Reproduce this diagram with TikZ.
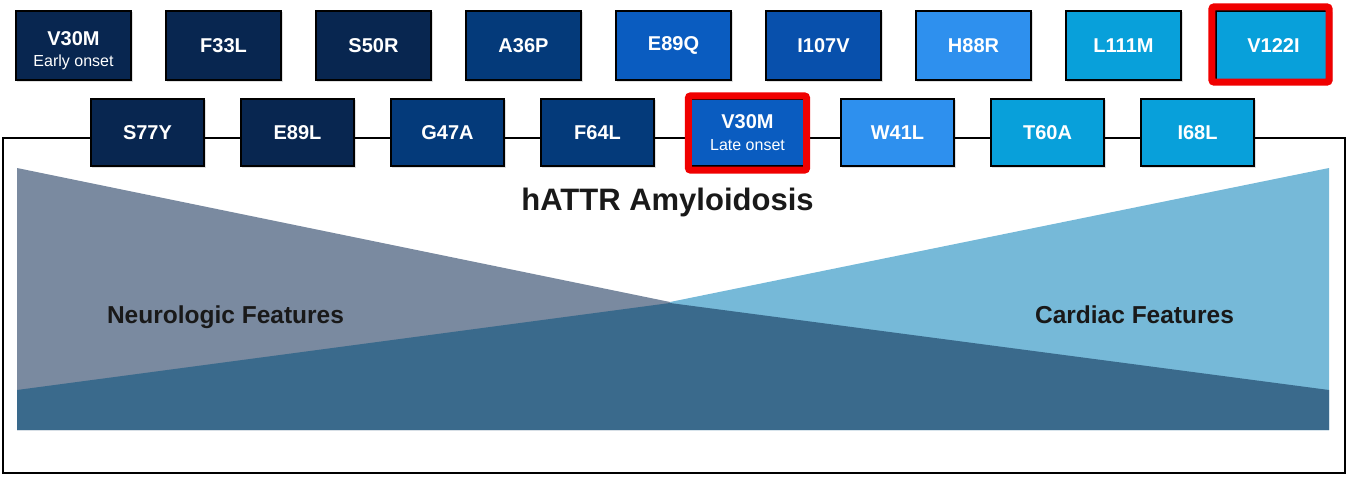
\documentclass[tikz,border=0pt]{standalone}
\usepackage{fontspec}
\setmainfont{Liberation Sans}
\usetikzlibrary{shadows}

\definecolor{navyA}{RGB}{8,38,80}
\definecolor{navyB}{RGB}{4,58,122}
\definecolor{blueC}{RGB}{10,92,192}
\definecolor{blueCc}{RGB}{8,80,172}
\definecolor{blueD}{RGB}{46,144,238}
\definecolor{cyanE}{RGB}{8,160,218}
\definecolor{neurogray}{RGB}{122,138,160}
\definecolor{cardblue}{RGB}{118,185,216}
\definecolor{overlapblue}{RGB}{58,106,140}
\definecolor{hired}{RGB}{240,0,0}

\tikzset{
  mbox/.style={draw=black, line width=1.6pt, text=white, inner sep=0pt,
    font=\fontsize{20}{22}\selectfont\bfseries, align=center,
    drop shadow={opacity=0.25, shadow xshift=1.5pt, shadow yshift=-1.5pt}},
  toprow/.style={mbox, minimum width=115.5pt, minimum height=69.5pt},
  lowrow/.style={mbox, minimum width=113.5pt, minimum height=67.5pt},
  hilite/.style={draw=hired, line width=7pt, rounded corners=2pt},
  frame/.style={draw=black, line width=1.8pt},
  feat/.style={text=black!90, anchor=base, font=\fontsize{24.5}{26}\selectfont\bfseries},
}
\newcommand{\onset}[1]{{\fontsize{16}{18}\selectfont\mdseries #1}}

\begin{document}
\begin{tikzpicture}[x=1pt,y=-1pt]
\useasboundingbox (0,0) rectangle (1348,477);
\def\p{150}
\def\ya{45.5}
\def\yb{132.5}

%Shape: features
\fill[neurogray] (17,168) -- (670,302) -- (670,430) -- (17,430) -- cycle ;
\fill[cardblue] (1329,168) -- (670,302) -- (670,430) -- (1329,430) -- cycle ;
\fill[overlapblue] (17,390) -- (670,303) -- (1329,390) -- (1329,430) -- (17,430) -- cycle ;

%row 1
\node[toprow, fill=navyA] (v30e) at (73.5,\ya) {\rule{0pt}{24pt}V30M\\[-1pt]\onset{Early onset}};
\node[toprow, fill=navyA] (f33l) at (73.5+\p,\ya) {F33L};
\node[toprow, fill=navyA] (s50r) at (73.5+2*\p,\ya) {S50R};
\node[toprow, fill=navyB] (a36p) at (73.5+3*\p,\ya) {A36P};
\node[toprow, fill=blueC] (e89q) at (73.5+4*\p,\ya) {E89Q};
\node[toprow, fill=blueCc] (i107v) at (73.5+5*\p,\ya) {I107V};
\node[toprow, fill=blueD] (h88r) at (73.5+6*\p,\ya) {H88R};
\node[toprow, fill=cyanE] (l111m) at (73.5+7*\p,\ya) {L111M};
\node[toprow, fill=cyanE] (v122i) at (73.5+8*\p,\ya) {V122I};

%row 2
\node[lowrow, fill=navyA] (s77y) at (147.5,\yb) {S77Y};
\node[lowrow, fill=navyA] (e89l) at (147.5+\p,\yb) {E89L};
\node[lowrow, fill=navyB] (g47a) at (147.5+2*\p,\yb) {G47A};
\node[lowrow, fill=navyB] (f64l) at (147.5+3*\p,\yb) {F64L};
\node[lowrow, fill=blueC] (v30l) at (147.5+4*\p,\yb) {V30M\\[0pt]\onset{Late onset}};
\node[lowrow, fill=blueD] (w41l) at (147.5+5*\p,\yb) {W41L};
\node[lowrow, fill=cyanE] (t60a) at (147.5+6*\p,\yb) {T60A};
\node[lowrow, fill=cyanE] (i68l) at (147.5+7*\p,\yb) {I68L};

%Straight Lines
\coordinate (fr) at (0,138);
\draw[frame] (s77y.west |- fr) -- (3,138) -- (3,473) -- (1345,473) -- (1345,138) -- (i68l.east |- fr) ;
\draw[frame] (s77y.east |- fr) -- (e89l.west |- fr) ;
\draw[frame] (e89l.east |- fr) -- (g47a.west |- fr) ;
\draw[frame] (g47a.east |- fr) -- (f64l.west |- fr) ;
\draw[frame] (f64l.east |- fr) -- (v30l.west |- fr) ;
\draw[frame] (v30l.east |- fr) -- (w41l.west |- fr) ;
\draw[frame] (w41l.east |- fr) -- (t60a.west |- fr) ;
\draw[frame] (t60a.east |- fr) -- (i68l.west |- fr) ;

%highlights
\draw[hilite] ([shift={(-1.5pt,-3pt)}]v30l.south west) rectangle ([shift={(1.5pt,2pt)}]v30l.north east) ;
\draw[hilite] ([shift={(-3pt,-1pt)}]v122i.south west) rectangle ([shift={(-3pt,3pt)}]v122i.north east) ;

% Text Node
\node[text=black!90, anchor=base, font=\fontsize{31}{33}\selectfont\bfseries] (title) at (667.5,210) {hATTR Amyloidosis};
% Text Node
\node[feat] (neuro) at (225.5,323) {Neurologic Features};
% Text Node
\node[feat] (cardiac) at (1134.5,323) {Cardiac Features};
\end{tikzpicture}
\end{document}
